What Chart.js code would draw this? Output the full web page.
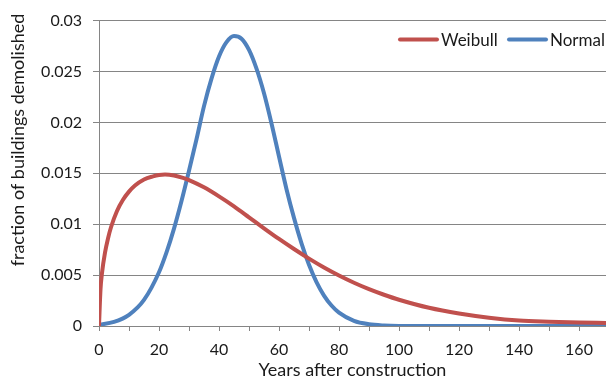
<!DOCTYPE html>
<html>
<head>
<meta charset="utf-8">
<script src="https://cdn.jsdelivr.net/npm/chart.js@4.4.1/dist/chart.umd.min.js"></script>
<style>
  html, body { margin: 0; padding: 0; background: #ffffff; }
  #wrap { width: 606px; height: 381px; }
</style>
</head>
<body>
<div id="wrap"><canvas id="c" width="606" height="381"></canvas></div>
<script>
// ---- data ----
const seriesNames = ['Weibull', 'Normal'];
const seriesColors = ['#C0504D', '#4F81BD'];

const weibullYears  = [0, 0.5, 1, 2, 3, 4, 6, 8, 10, 12, 15, 18, 20, 22, 25, 28, 30, 35, 40, 45, 50, 55, 60, 65, 70, 75, 80, 85, 90, 95, 100, 110, 120, 130, 140, 150, 160, 169];
const weibullValues = [0, 0.0036, 0.0052, 0.0072, 0.0086, 0.0097, 0.0113, 0.0124, 0.0132, 0.0138, 0.0144, 0.0147, 0.01483, 0.01487, 0.01478, 0.01455, 0.01433, 0.01362, 0.01273, 0.01175, 0.01068, 0.0096, 0.00855, 0.00756, 0.00662, 0.00575, 0.00496, 0.00425, 0.00362, 0.00307, 0.00258, 0.00179, 0.00123, 0.00082, 0.00054, 0.00042, 0.00034, 0.0003];

const normalYears  = [0, 5, 10, 15, 20, 22.5, 25, 27.5, 30, 32.5, 35, 37.5, 40, 42.5, 45, 47.5, 50, 52.5, 55, 57.5, 60, 62.5, 65, 67.5, 70, 72.5, 75, 77.5, 80, 85, 90, 95, 100, 110, 120, 130, 140, 150, 160, 169];
const normalValues = [0.00013, 0.0004, 0.0011, 0.00256, 0.00528, 0.00723, 0.00957, 0.01228, 0.01525, 0.01834, 0.0216, 0.0243, 0.02647, 0.02788, 0.02848, 0.02822, 0.02712, 0.02528, 0.02286, 0.0199, 0.01665, 0.01344, 0.01062, 0.00812, 0.00601, 0.00431, 0.00299, 0.00201, 0.00131, 0.0005, 0.00017, 0.00005, 0.00001, 0, 0, 0, 0, 0, 0, 0];

const xMin = 0, xMax = 169, xStep = 10, xLabelEvery = 20;
const yMin = 0, yMax = 0.03, yStep = 0.005;
const xTitle = 'Years after construction';
const yTitle = 'fraction of buildings demolished';

// ---- chart ----
Chart.defaults.font.family = 'Lato';
Chart.defaults.font.size = 16;
Chart.defaults.color = '#1a1a1a';

const gridColor = '#858585';

const toPoints = (xs, ys) => xs.map((x, i) => ({ x: x, y: ys[i] }));

const overlayPlugin = {
  id: 'overlay',
  afterDraw(chart) {
    const ctx = chart.ctx;
    const area = chart.chartArea;
    ctx.save();
    // y axis title
    ctx.font = '18px Lato';
    ctx.fillStyle = '#1a1a1a';
    ctx.textAlign = 'center';
    ctx.textBaseline = 'middle';
    ctx.translate(18, 140);
    ctx.rotate(-Math.PI / 2);
    ctx.fillText(yTitle, 0, 0);
    ctx.restore();

    // legend inside the plot, top right
    ctx.save();
    ctx.font = '17px Lato';
    ctx.textAlign = 'left';
    ctx.textBaseline = 'middle';
    const ly = area.top + 19;
    const starts = [area.right - 206, area.right - 97];
    chart.data.datasets.forEach((ds, i) => {
      const x0 = starts[i];
      ctx.strokeStyle = ds.borderColor;
      ctx.lineWidth = 4;
      ctx.lineCap = 'round';
      ctx.beginPath();
      ctx.moveTo(x0, ly);
      ctx.lineTo(x0 + 37, ly);
      ctx.stroke();
      ctx.fillStyle = '#1a1a1a';
      ctx.fillText(ds.label, x0 + 41, ly + 1);
    });
    ctx.restore();
  }
};

new Chart(document.getElementById('c'), {
  type: 'line',
  data: {
    datasets: [
      {
        label: seriesNames[0],
        data: toPoints(weibullYears, weibullValues),
        borderColor: seriesColors[0],
        backgroundColor: seriesColors[0],
        borderWidth: 4,
        pointRadius: 0,
        cubicInterpolationMode: 'monotone',
        fill: false
      },
      {
        label: seriesNames[1],
        data: toPoints(normalYears, normalValues),
        borderColor: seriesColors[1],
        backgroundColor: seriesColors[1],
        borderWidth: 4,
        pointRadius: 0,
        cubicInterpolationMode: 'monotone',
        fill: false
      }
    ]
  },
  options: {
    responsive: false,
    animation: false,
    devicePixelRatio: 1,
    layout: { padding: { top: 15, right: 0, bottom: 0, left: 0 } },
    plugins: {
      legend: { display: false },
      tooltip: { enabled: false }
    },
    scales: {
      x: {
        type: 'linear',
        min: xMin,
        max: xMax,
        afterFit(scale) { scale.height = 55; },
        border: { display: true, color: gridColor, width: 1 },
        grid: { display: true, drawOnChartArea: false, drawTicks: true, tickLength: 5, color: gridColor },
        ticks: {
          stepSize: xStep,
          includeBounds: false,
          autoSkip: false,
          maxRotation: 0,
          padding: 9,
          callback: (v) => (v % xLabelEvery === 0 ? String(v) : '')
        },
        title: { display: true, text: xTitle, font: { size: 18 }, padding: { top: 0, bottom: 0 } }
      },
      y: {
        type: 'linear',
        min: yMin,
        max: yMax,
        afterFit(scale) { scale.width = 99; },
        border: { display: true, color: gridColor, width: 1 },
        grid: { display: true, drawOnChartArea: true, drawTicks: true, tickLength: 6, color: gridColor, lineWidth: 1 },
        ticks: {
          stepSize: yStep,
          padding: 11,
          callback: (v) => String(+v.toFixed(3))
        },
        title: { display: false }
      }
    }
  },
  plugins: [overlayPlugin]
});
</script>
</body>
</html>
